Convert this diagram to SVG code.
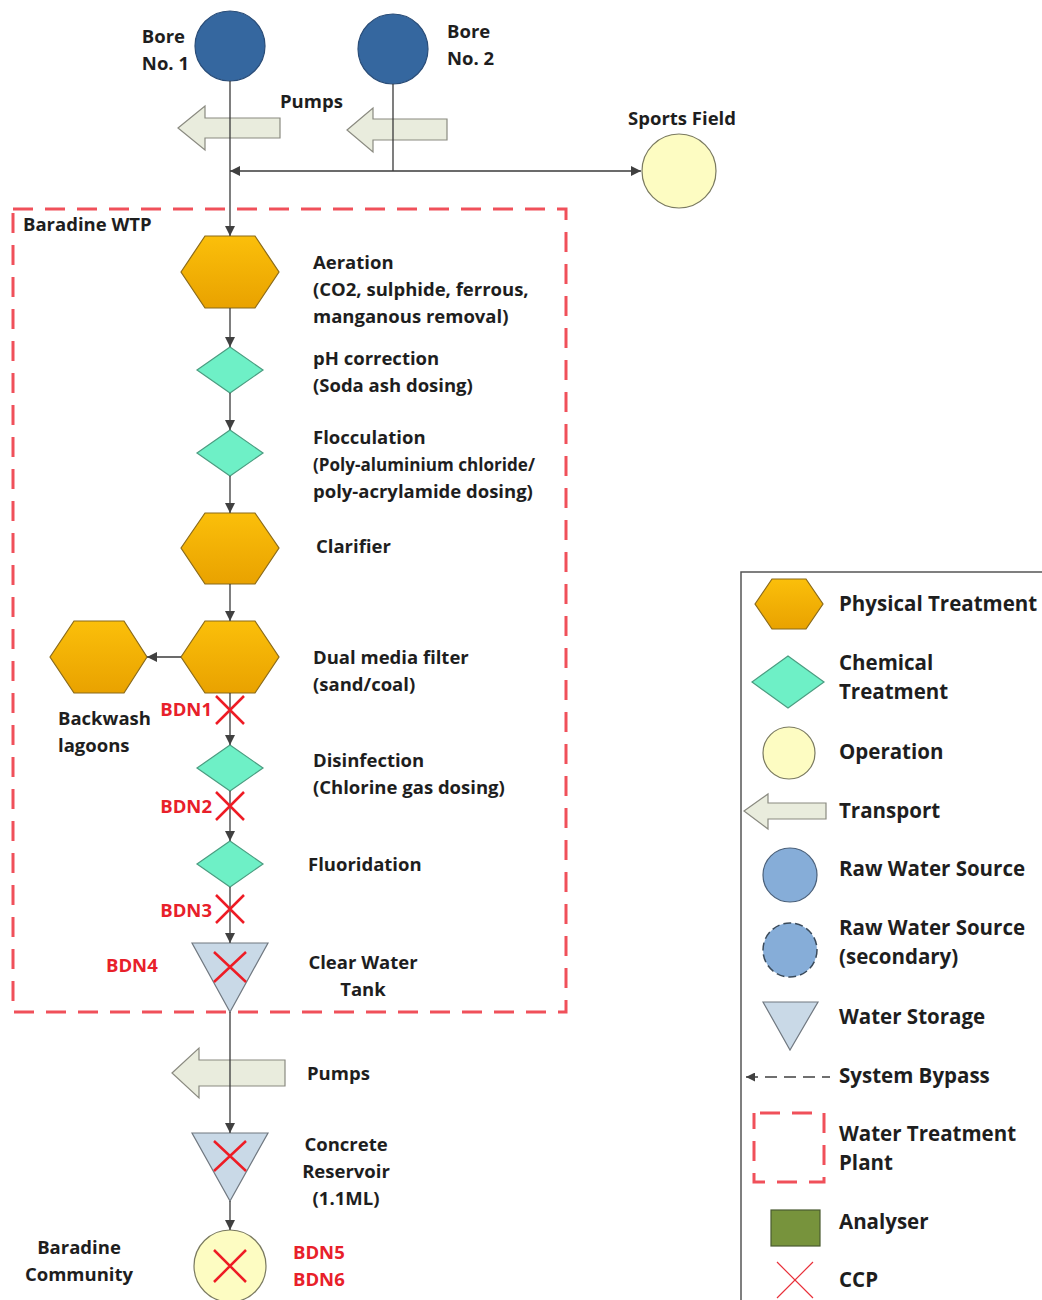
<svg xmlns="http://www.w3.org/2000/svg" width="1042" height="1300" viewBox="0 0 1042 1300">
<defs>
<linearGradient id="gOr" x1="0" y1="0" x2="0" y2="1"><stop offset="0" stop-color="#fbbf0a"/><stop offset="1" stop-color="#e9a200"/></linearGradient>
<marker id="ah" viewBox="0 0 10 10" refX="10" refY="5" markerWidth="10" markerHeight="10" markerUnits="userSpaceOnUse" orient="auto-start-reverse"><path d="M0,0 L10,5 L0,10 z" fill="#404040"/></marker>
<marker id="ahs" viewBox="0 0 10 10" refX="10" refY="5" markerWidth="9" markerHeight="9" markerUnits="userSpaceOnUse" orient="auto-start-reverse"><path d="M0,0 L10,5 L0,10 z" fill="#404040"/></marker>
</defs>
<style>
text{font-family:"Open Sans","Liberation Sans",sans-serif;font-weight:bold;font-size:18.5px;fill:#1e1e1e}
#legend text{font-size:20.5px}
.r{fill:#e8202a}
.hex{fill:url(#gOr);stroke:#8a6a1a;stroke-width:1.2}
.dia{fill:#6ef0c6;stroke:#4b9c80;stroke-width:1.2}
.bore{fill:#35679f;stroke:#2a4d78;stroke-width:1.2}
.op{fill:#fdfcc2;stroke:#7a7a60;stroke-width:1.2}
.tr{fill:#e9ecdd;stroke:#8a8a80;stroke-width:1.2}
.tank{fill:#c9d9e7;stroke:#707880;stroke-width:1.2}
.con{stroke:#3a3a3a;stroke-width:1.3;fill:none}
.x{stroke:#ee1c25;stroke-width:2.5;fill:none}
.wtp{fill:none;stroke:#f0505a;stroke-width:3;stroke-dasharray:20 12}
</style>
<rect width="1042" height="1300" fill="#ffffff"/>

<!-- WTP boundary -->
<g id="wtp">
<rect class="wtp" x="13" y="209" width="553" height="803"/>
<text x="23" y="231">Baradine WTP</text>
</g>

<!-- Sources -->
<g id="bore1"><circle class="bore" cx="230" cy="46" r="35"/><text x="185" y="43" text-anchor="end">Bore</text><text x="189" y="70" text-anchor="end">No. 1</text></g>
<g id="bore2"><circle class="bore" cx="393" cy="49" r="35"/><text x="447" y="38">Bore</text><text x="447" y="65">No. 2</text></g>
<g id="pumps1"><polygon class="tr" points="178,128 205,106 205,118 280,118 280,138 205,138 205,150"/><text x="280" y="108">Pumps</text></g>
<g id="pumps2"><polygon class="tr" points="347,130 373,108 373,119 447,119 447,140 373,140 373,152"/></g>
<g id="sports"><circle class="op" cx="679" cy="171" r="37"/><text x="682" y="125" text-anchor="middle">Sports Field</text></g>

<!-- Process -->
<g id="aeration"><polygon class="hex" points="181,272 205,236 255,236 279,272 255,308 205,308"/>
<text x="313" y="269">Aeration</text><text x="313" y="296">(CO2, sulphide, ferrous,</text><text x="313" y="323">manganous removal)</text></g>
<g id="ph"><polygon class="dia" points="230,347 263,370 230,393 197,370"/>
<text x="313" y="365">pH correction</text><text x="313" y="392">(Soda ash dosing)</text></g>
<g id="floc"><polygon class="dia" points="230,430 263,453 230,476 197,453"/>
<text x="313" y="444">Flocculation</text><text x="313" y="471" textLength="222" lengthAdjust="spacingAndGlyphs">(Poly-aluminium chloride/</text><text x="313" y="498">poly-acrylamide dosing)</text></g>
<g id="clarifier"><polygon class="hex" points="181,548 205,513 255,513 279,548 255,584 205,584"/>
<text x="316" y="553">Clarifier</text></g>
<g id="dmf"><polygon class="hex" points="181,657 205,621 255,621 279,657 255,693 205,693"/>
<text x="313" y="664">Dual media filter</text><text x="313" y="691">(sand/coal)</text></g>
<g id="backwash"><polygon class="hex" points="50,657 74,621 124,621 147,657 124,693 74,693"/>
<text x="58" y="725">Backwash</text><text x="58" y="752">lagoons</text></g>
<g id="disinf"><polygon class="dia" points="230,745 263,768 230,791 197,768"/>
<text x="313" y="767">Disinfection</text><text x="313" y="794">(Chlorine gas dosing)</text></g>
<g id="fluor"><polygon class="dia" points="230,841 263,864 230,887 197,864"/>
<text x="308" y="871">Fluoridation</text></g>
<g id="cwt"><polygon class="tank" points="192,943 268,943 230,1012"/>
<text x="363" y="969" text-anchor="middle">Clear Water</text><text x="363" y="996" text-anchor="middle">Tank</text></g>
<g id="pumps3"><polygon class="tr" points="172,1073 199,1048 199,1060 285,1060 285,1086 199,1086 199,1098"/><text x="307" y="1080">Pumps</text></g>
<g id="reservoir"><polygon class="tank" points="192,1133 268,1133 230,1201"/>
<text x="346" y="1151" text-anchor="middle">Concrete</text><text x="346" y="1178" text-anchor="middle">Reservoir</text><text x="346" y="1205" text-anchor="middle">(1.1ML)</text></g>
<g id="community"><circle class="op" cx="230" cy="1266" r="36"/>
<text x="79" y="1254" text-anchor="middle">Baradine</text><text x="79" y="1281" text-anchor="middle">Community</text></g>

<!-- Connectors -->
<g id="connectors">
<line class="con" x1="230" y1="81" x2="230" y2="236" marker-end="url(#ah)"/>
<line class="con" x1="393" y1="84" x2="393" y2="171"/>
<line class="con" x1="230" y1="171" x2="641" y2="171" marker-start="url(#ah)" marker-end="url(#ah)"/>
<line class="con" x1="230" y1="308" x2="230" y2="347" marker-end="url(#ah)"/>
<line class="con" x1="230" y1="393" x2="230" y2="430" marker-end="url(#ah)"/>
<line class="con" x1="230" y1="476" x2="230" y2="513" marker-end="url(#ah)"/>
<line class="con" x1="230" y1="584" x2="230" y2="621" marker-end="url(#ah)"/>
<line class="con" x1="181" y1="657" x2="147" y2="657" marker-end="url(#ah)"/>
<line class="con" x1="230" y1="693" x2="230" y2="745" marker-end="url(#ah)"/>
<line class="con" x1="230" y1="791" x2="230" y2="841" marker-end="url(#ah)"/>
<line class="con" x1="230" y1="887" x2="230" y2="943" marker-end="url(#ah)"/>
<line class="con" x1="230" y1="1012" x2="230" y2="1133" marker-end="url(#ah)"/>
<line class="con" x1="230" y1="1201" x2="230" y2="1230" marker-end="url(#ah)"/>
</g>

<!-- CCPs -->
<g id="ccp">
<path class="x" d="M216,696 L244,724 M244,696 L216,724"/><text class="r" x="212" y="716" text-anchor="end">BDN1</text>
<path class="x" d="M216,792 L244,820 M244,792 L216,820"/><text class="r" x="212" y="813" text-anchor="end">BDN2</text>
<path class="x" d="M216,895 L244,923 M244,895 L216,923"/><text class="r" x="212" y="917" text-anchor="end">BDN3</text>
<path class="x" d="M214,952 L246,982 M246,952 L214,982"/><text class="r" x="106" y="972">BDN4</text>
<path class="x" d="M214,1141 L246,1171 M246,1141 L214,1171"/>
<path class="x" d="M214,1250 L246,1282 M246,1250 L214,1282"/><text class="r" x="293" y="1259">BDN5</text><text class="r" x="293" y="1286">BDN6</text>
</g>

<!-- Legend -->
<g id="legend">
<rect x="741" y="572" width="320" height="760" fill="none" stroke="#555" stroke-width="1.5"/>
<polygon class="hex" points="755,604 772,579 806,579 823,604 806,629 772,629"/><text x="839" y="611">Physical Treatment</text>
<polygon class="dia" points="788,656 824,682 788,708 752,682"/><text x="839" y="670">Chemical</text><text x="839" y="699">Treatment</text>
<circle class="op" cx="789" cy="753" r="26"/><text x="839" y="759">Operation</text>
<polygon class="tr" points="744,811 768,794 768,803 826,803 826,819 768,819 768,829"/><text x="839" y="818">Transport</text>
<circle cx="790" cy="875" r="27" fill="#86add8" stroke="#4a607a" stroke-width="1.2"/><text x="839" y="876">Raw Water Source</text>
<circle cx="790" cy="950" r="27" fill="#86add8" stroke="#3a4a5a" stroke-width="1.5" stroke-dasharray="8 4"/><text x="839" y="935">Raw Water Source</text><text x="839" y="964">(secondary)</text>
<polygon class="tank" points="763,1002 818,1002 790,1050"/><text x="839" y="1024">Water Storage</text>
<line x1="746" y1="1077" x2="830" y2="1077" stroke="#404040" stroke-width="1.3" stroke-dasharray="12 7" marker-start="url(#ahs)"/><text x="839" y="1083">System Bypass</text>
<rect class="wtp" x="754" y="1113" width="70" height="69" stroke-dasharray="22 14" stroke-dashoffset="-6"/><text x="839" y="1141">Water Treatment</text><text x="839" y="1170">Plant</text>
<rect x="771" y="1210" width="49" height="36" fill="#77933c" stroke="#4a5a30" stroke-width="1.2"/><text x="839" y="1229">Analyser</text>
<path d="M777,1262 L813,1298 M813,1262 L777,1298" stroke="#e8303a" stroke-width="1.2" fill="none"/><text x="839" y="1287">CCP</text>
</g>
</svg>
